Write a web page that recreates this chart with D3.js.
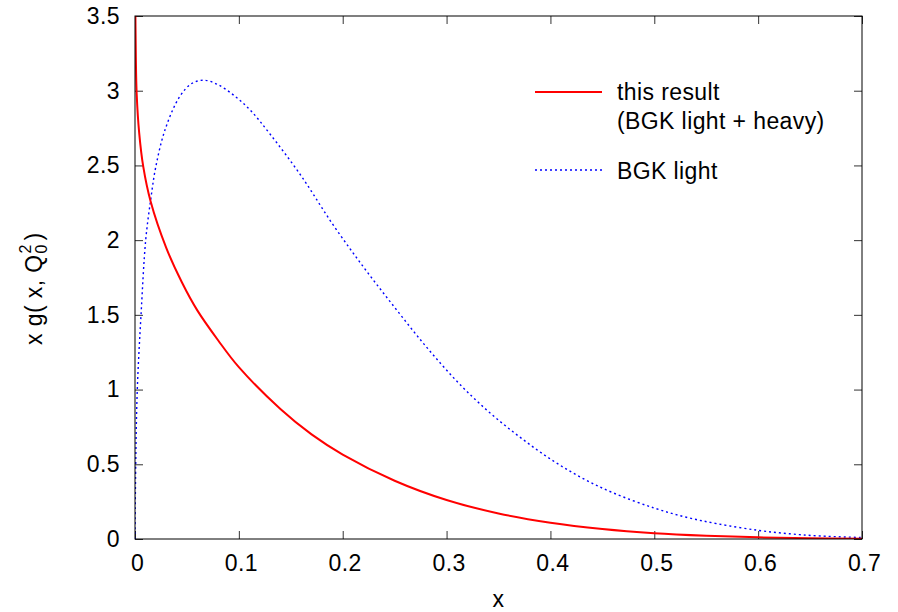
<!DOCTYPE html>
<html>
<head>
<meta charset="utf-8">
<script src="https://cdn.jsdelivr.net/npm/d3@7"></script>
<style>
  body { margin: 0; background: #fff; }
  svg { display: block; font-family: "Liberation Sans", Arial, sans-serif; }
  .axis path { stroke: none; }
  .axis line { stroke: #333; }
  .axis text { font-size: 23px; letter-spacing: 0.4px; fill: #000; }
  .lbl { font-size: 23px; letter-spacing: 0.4px; }
</style>
</head>
<body>
<div id="chart"></div>
<script>
// series
var resultX = [0.0002, 0.0008, 0.0016, 0.004, 0.008, 0.015, 0.03, 0.045, 0.06, 0.08, 0.10, 0.14,
  0.17, 0.20, 0.25, 0.30, 0.35, 0.40, 0.45, 0.50, 0.55, 0.60, 0.65, 0.70];
var resultY = [3.68, 3.23, 2.98, 2.72, 2.49, 2.26, 1.95, 1.72, 1.53, 1.33, 1.15, 0.87,
  0.70, 0.565, 0.39, 0.261, 0.171, 0.109, 0.067, 0.039, 0.022, 0.011, 0.0054, 0.0023];

var lightX = [0, 0.0007, 0.0022, 0.0058, 0.0103, 0.0151, 0.020, 0.029, 0.043, 0.055, 0.067, 0.080, 0.095,
  0.111, 0.130, 0.16, 0.19, 0.22, 0.25, 0.28, 0.31, 0.34, 0.37, 0.40, 0.43, 0.46, 0.50, 0.53, 0.56,
  0.60, 0.63, 0.66, 0.70];
var lightY = [0, 0.5, 1.0, 1.5, 2.0, 2.27, 2.49, 2.74, 2.96, 3.05, 3.07, 3.04, 2.97,
  2.87, 2.71, 2.43, 2.11, 1.82, 1.55, 1.29, 1.055, 0.855, 0.685, 0.535, 0.41, 0.31, 0.207, 0.147, 0.103,
  0.058, 0.035, 0.02, 0.01];

var xTicks = [0, 0.1, 0.2, 0.3, 0.4, 0.5, 0.6, 0.7];
var yTicks = [0, 0.5, 1, 1.5, 2, 2.5, 3, 3.5];
var legendLabels = [["this result", "(BGK light + heavy)"], ["BGK light"]];

var svgWidth = 898, svgHeight = 612;
var margin = { top: 16, right: 36, bottom: 73, left: 135 };
var width = svgWidth - margin.left - margin.right;
var height = svgHeight - margin.top - margin.bottom;

var svg = d3.select("#chart").append("svg")
  .attr("width", svgWidth)
  .attr("height", svgHeight);

var chartGroup = svg.append("g")
  .attr("transform", `translate(${margin.left}, ${margin.top})`);

var xScale = d3.scaleLinear().domain([0, 0.7]).range([0, width]);
var yScale = d3.scaleLinear().domain([0, 3.5]).range([height, 0]);

// axes with inward ticks, mirrored on top/right
chartGroup.append("g").attr("class", "axis")
  .attr("transform", `translate(0, ${height})`)
  .call(d3.axisBottom(xScale).tickValues(xTicks).tickSizeInner(-8).tickSizeOuter(0).tickPadding(16)
    .tickFormat(d => d === 0 ? "0" : d3.format(".1f")(d)))
  .selectAll("text").attr("dx", "2");

chartGroup.append("g").attr("class", "axis")
  .call(d3.axisLeft(yScale).tickValues(yTicks).tickSizeInner(-8).tickSizeOuter(0).tickPadding(15)
    .tickFormat(d => d === 0 ? "0" : (Number.isInteger(d) ? d : d3.format(".1f")(d))));

chartGroup.append("g").attr("class", "axis")
  .call(d3.axisTop(xScale).tickValues(xTicks).tickSizeInner(-8).tickSizeOuter(0).tickFormat(""));

chartGroup.append("g").attr("class", "axis")
  .attr("transform", `translate(${width}, 0)`)
  .call(d3.axisRight(yScale).tickValues(yTicks).tickSizeInner(-8).tickSizeOuter(0).tickFormat(""));

// clip for curves
svg.append("clipPath").attr("id", "plotClip")
  .append("rect").attr("width", width).attr("height", height);

var line = d3.line()
  .x(d => xScale(d[0]))
  .y(d => yScale(d[1]))
  .curve(d3.curveCatmullRom.alpha(0.5));

var resultData = resultX.map((x, i) => [x, resultY[i]]);
var lightData = lightX.map((x, i) => [x, lightY[i]]);

var curves = chartGroup.append("g").attr("clip-path", "url(#plotClip)");

curves.append("path")
  .datum(lightData)
  .attr("d", line)
  .attr("fill", "none")
  .attr("stroke", "#0000ff")
  .attr("stroke-width", 1.4)
  .attr("stroke-dasharray", "2,3");

curves.append("path")
  .datum(resultData)
  .attr("d", line)
  .attr("fill", "none")
  .attr("stroke", "#ff0000")
  .attr("stroke-width", 2);

// frame
chartGroup.append("rect")
  .attr("width", width)
  .attr("height", height)
  .attr("fill", "none")
  .attr("stroke", "#000")
  .attr("stroke-width", 1);

// legend
var legend = svg.append("g");
legend.append("line")
  .attr("x1", 535).attr("x2", 602).attr("y1", 92).attr("y2", 92)
  .attr("stroke", "#ff0000").attr("stroke-width", 2);
legend.append("text").attr("class", "lbl").attr("x", 617).attr("y", 100).text(legendLabels[0][0]);
legend.append("text").attr("class", "lbl").attr("x", 617).attr("y", 129).text(legendLabels[0][1]);
legend.append("line")
  .attr("x1", 535).attr("x2", 602).attr("y1", 170).attr("y2", 170)
  .attr("stroke", "#0000ff").attr("stroke-width", 1.4).attr("stroke-dasharray", "2,3");
legend.append("text").attr("class", "lbl").attr("x", 617).attr("y", 179).text(legendLabels[1][0]);

// axis labels
svg.append("text")
  .attr("class", "lbl")
  .attr("x", margin.left + width / 2)
  .attr("y", 607)
  .attr("text-anchor", "middle")
  .text("x");

var yLab = svg.append("g")
  .attr("transform", "translate(42, 345) rotate(-90)");
var mainText = yLab.append("text")
  .attr("class", "lbl")
  .attr("x", 0).attr("y", 0)
  .text("x g( x, Q");
var w = mainText.node().getComputedTextLength();
yLab.append("text").attr("x", w + 1).attr("y", -11).style("font-size", "16px").text("2");
yLab.append("text").attr("x", w + 1).attr("y", 5).style("font-size", "16px").text("0");
yLab.append("text").attr("class", "lbl").attr("x", w + 14).attr("y", 0).text(" )");
</script>
</body>
</html>
